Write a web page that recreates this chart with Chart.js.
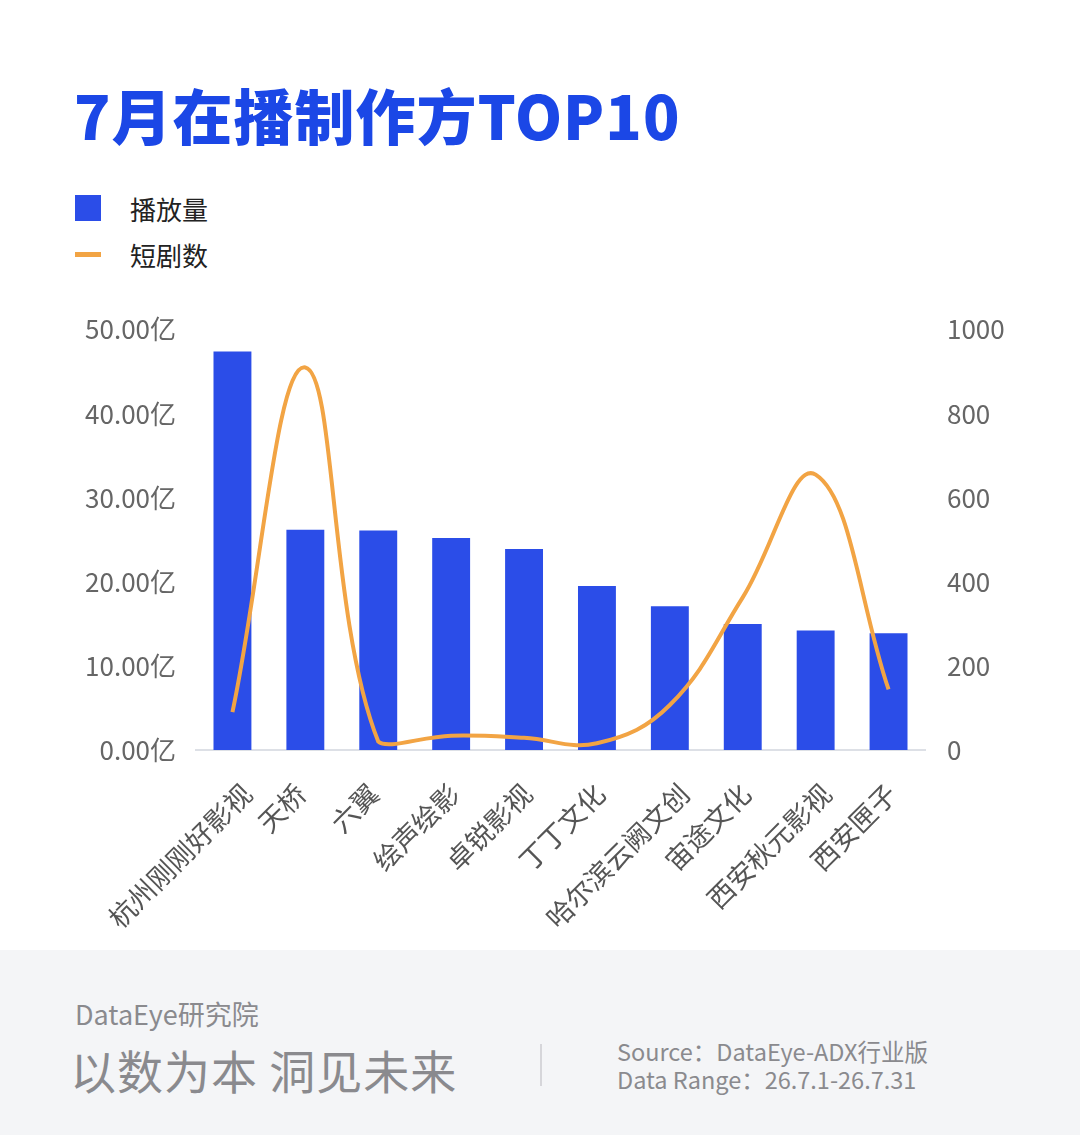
<!DOCTYPE html>
<html lang="zh">
<head>
  <meta charset="UTF-8" />
  <title>7月在播制作方TOP10</title>
  <script src="https://cdn.jsdelivr.net/npm/chart.js"></script>
  <style>
    body {
      margin: 0;
      width: 1080px;
      height: 1135px;
      background: #fff;
      font-family: 'Noto Sans CJK SC', 'Noto Sans', sans-serif;
      position: relative;
      overflow: hidden;
    }
    h1 {
      position: absolute;
      left: 74px;
      top: 70px;
      margin: 0;
      font-size: 60px;
      font-weight: 900;
      color: #1B47E6;
      letter-spacing: 1px;
    }
    .legend {
      position: absolute;
      left: 75px;
      top: 185px;
      font-size: 26px;
      color: #222;
    }
    .legend div {
      height: 46px;
      display: flex;
      align-items: center;
    }
    .legend .sw {
      width: 26px;
      margin-right: 29px;
    }
    .box { height: 26px; background: #2B4DE8; }
    .dash { height: 5px; background: #F2A444; }
    #wrap {
      position: absolute;
      left: 0;
      top: 300px;
      width: 1080px;
      height: 640px;
    }
    .footer {
      position: absolute;
      left: 0;
      top: 950px;
      width: 1080px;
      height: 185px;
      background: #f4f5f7;
      color: #8a8a8e;
    }
    .brand { position: absolute; left: 75px; top: 44px; font-size: 27px; }
    .motto { position: absolute; left: 70px; top: 86px; font-size: 46px; letter-spacing: 1px; }
    .divider { position: absolute; left: 540px; top: 94px; width: 2px; height: 42px; background: #d6d6da; }
    .src { position: absolute; left: 617px; top: 87px; font-size: 23.5px; line-height: 28px; }
  </style>
</head>
<body>
  <h1>7月在播制作方TOP10</h1>
  <div class="legend">
    <div><span class="sw box"></span>播放量</div>
    <div><span class="sw dash"></span>短剧数</div>
  </div>
  <div id="wrap"><canvas id="chart" width="1080" height="640"></canvas></div>
  <div class="footer">
    <div class="brand">DataEye研究院</div>
    <div class="motto">以数为本 洞见未来</div>
    <div class="divider"></div>
    <div class="src">Source：DataEye-ADX行业版<br>Data Range：26.7.1-26.7.31</div>
  </div>

  <script>
    const companies = ['杭州刚刚好影视', '天桥', '六翼', '绘声绘影', '卓锐影视', '丁丁文化', '哈尔滨云阙文创', '宙途文化', '西安秋元影视', '西安匣子'];
    const playCount = [47.4, 26.2, 26.1, 25.2, 23.9, 19.5, 17.1, 15.0, 14.2, 13.9]; // 亿
    const dramaCount = [90, 910, 20, 34, 29, 16, 107, 363, 655, 144];
    const leftTicks = [0, 10, 20, 30, 40, 50];
    const rightTicks = [0, 200, 400, 600, 800, 1000];

    const tickFont = { family: "'Noto Sans CJK SC', sans-serif", size: 26 };

    // the original's slanted labels sit a little right of the tick, more so for long names
    const slantedLabels = {
      id: 'slantedLabels',
      afterDraw(chart) {
        const { ctx, chartArea } = chart;
        const x = chart.scales.x;
        ctx.save();
        ctx.font = "27px 'Noto Sans CJK SC', sans-serif";
        ctx.fillStyle = '#555';
        ctx.textAlign = 'right';
        ctx.textBaseline = 'middle';
        companies.forEach((name, i) => {
          const w = ctx.measureText(name).width;
          ctx.save();
          ctx.translate(x.getPixelForTick(i) + 0.14 * w - 12, chartArea.bottom + 39);
          ctx.rotate(-Math.PI / 4);
          ctx.fillText(name, 0, 0);
          ctx.restore();
        });
        ctx.restore();
      }
    };

    new Chart(document.getElementById('chart'), {
      data: {
        labels: companies,
        datasets: [
          {
            type: 'line',
            label: '短剧数',
            data: dramaCount,
            yAxisID: 'y1',
            borderColor: '#F2A444',
            borderWidth: 4,
            pointRadius: 0,
            tension: 0.4,
            order: 0
          },
          {
            type: 'bar',
            label: '播放量',
            data: playCount,
            yAxisID: 'y',
            backgroundColor: '#2B4DE8',
            barPercentage: 0.52,
            categoryPercentage: 1,
            order: 1
          }
        ]
      },
      options: {
        responsive: false,
        animation: false,
        layout: { padding: { top: 21, left: 0, right: 0, bottom: 0 } },
        plugins: { legend: { display: false }, tooltip: { enabled: false } },
        scales: {
          x: {
            grid: { display: false },
            border: { color: '#dde0e6', width: 2 },
            ticks: { display: false },
            afterFit: s => { s.height = 190; }
          },
          y: {
            position: 'left',
            min: 0,
            max: 50,
            grid: { display: false },
            border: { display: false },
            afterBuildTicks: s => { s.ticks = leftTicks.map(v => ({ value: v })); },
            ticks: { color: '#666', font: tickFont, padding: 12, callback: v => v.toFixed(2) + '亿' },
            afterFit: s => { s.width = 196; }
          },
          y1: {
            position: 'right',
            min: 0,
            max: 1000,
            grid: { display: false },
            border: { display: false },
            afterBuildTicks: s => { s.ticks = rightTicks.map(v => ({ value: v })); },
            ticks: { color: '#666', font: tickFont, padding: 14, callback: v => String(v) },
            afterFit: s => { s.width = 155; }
          }
        }
      },
      plugins: [slantedLabels]
    });
  </script>
</body>
</html>
